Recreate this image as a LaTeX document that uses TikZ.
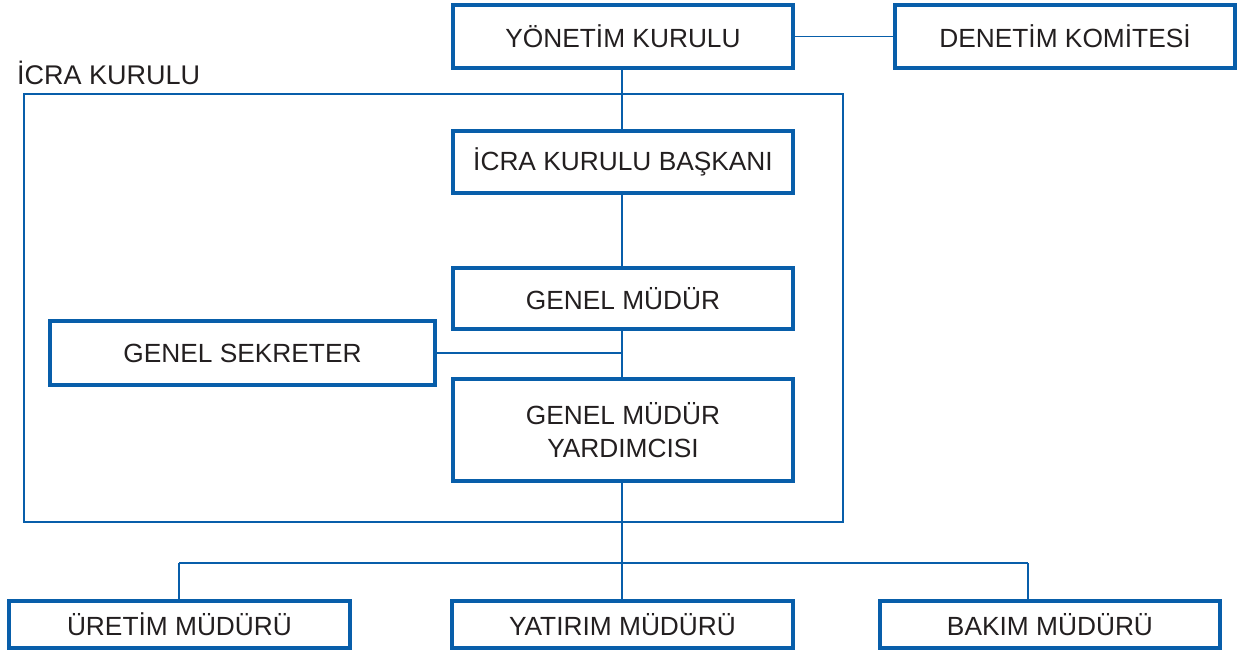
\documentclass[tikz,border=0pt]{standalone}
\usepackage{fontspec}
\setmainfont{Liberation Sans}
\definecolor{orgblue}{RGB}{8,94,170}
\definecolor{txt}{RGB}{35,31,32}
\begin{document}
\begin{tikzpicture}[x=1pt,y=-1pt,
  box/.style={draw=orgblue,line width=4pt,fill=white,rectangle,inner sep=0pt,
    text=txt,font=\fontsize{26.3}{33}\selectfont,align=center,minimum width=340pt},
  link/.style={draw=orgblue,line width=1.6pt}]
\useasboundingbox (0,0) rectangle (1240,650);
% Icra kurulu frame
\node[draw=orgblue,line width=2pt,rectangle,minimum width=819pt,minimum height=427pt,inner sep=0pt] (frame) at (433,308) {};
\node[anchor=west,text=txt,font=\fontsize{27}{30}\selectfont,inner sep=0pt] (framelabel) at (17,73) {İCRA KURULU};
\coordinate (bus) at (622,563);
\coordinate (busL) at (179,563);
\coordinate (busR) at (1028,563);
\coordinate (gsj) at (622,353);
\node[box,minimum height=63pt] (yk) at (623,36.5) {YÖNETİM KURULU};
\node[box,minimum height=63pt] (dk) at (1065,36.5) {DENETİM KOMİTESİ};
\node[box,minimum height=62pt] (ikb) at (623,162) {İCRA KURULU BAŞKANI};
\node[box,minimum height=61pt] (gm) at (623,298.5) {GENEL MÜDÜR};
\node[box,minimum width=385pt,minimum height=64pt] (gs) at (242.5,353) {GENEL SEKRETER};
\node[box,minimum height=102pt] (gmy) at (623,430) {GENEL MÜDÜR\\YARDIMCISI};
\node[box,minimum width=341pt,minimum height=47pt] (ur) at (179.5,624.5) {ÜRETİM MÜDÜRÜ};
\node[box,minimum width=341pt,minimum height=47pt] (ya) at (622.5,624.5) {YATIRIM MÜDÜRÜ};
\node[box,minimum width=340pt,minimum height=47pt] (ba) at (1050,624.5) {BAKIM MÜDÜRÜ};
\draw[link] (yk.east) -- (dk.west);
\draw[link] (622,0 |- yk.south) -- (622,0 |- ikb.north);
\draw[link] (622,0 |- ikb.south) -- (622,0 |- gm.north);
\draw[link] (622,0 |- gm.south) -- (622,0 |- gmy.north);
\draw[link] (gs.east) -- (gsj);
\draw[link] (622,0 |- gmy.south) -- (bus) -- (622,0 |- ya.north);
\draw[link] (busL) -- (busR);
\draw[link] (busL) -- (179,0 |- ur.north);
\draw[link] (busR) -- (1028,0 |- ba.north);
\end{tikzpicture}
\end{document}
